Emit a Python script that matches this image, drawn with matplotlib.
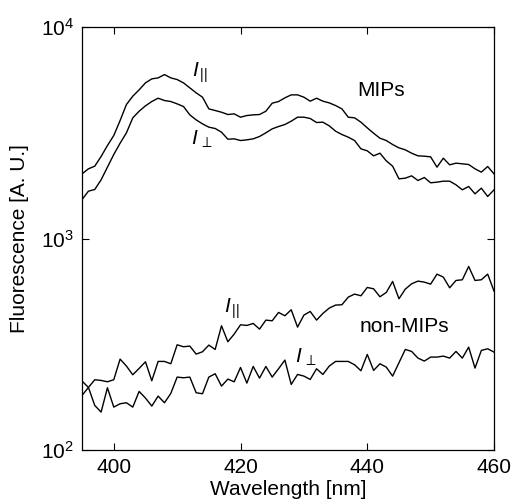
import matplotlib
matplotlib.use("Agg")
import matplotlib.pyplot as plt
from matplotlib.ticker import FixedLocator, FixedFormatter, NullLocator
import numpy as np

plt.rcParams['font.family'] = ['Liberation Sans', 'DejaVu Sans']
plt.rcParams['mathtext.fontset'] = 'custom'
plt.rcParams['mathtext.rm'] = 'Liberation Sans'
plt.rcParams['mathtext.it'] = 'Liberation Sans:italic'

wavelength = list(range(395, 461))

mip_par = [2025, 2139, 2202, 2446, 2757, 3074, 3620, 4309, 4718, 5054,
           5454, 5697, 5759, 5972, 5759, 5656, 5454, 5166, 4893, 4667,
           4110, 4036, 3963, 3864, 3892, 3754, 3822, 3850, 3864, 4006,
           4372, 4452, 4633, 4787, 4787, 4667, 4468, 4616, 4468, 4387,
           4261, 4110, 3754, 3727, 3555, 3342, 3152, 2986, 2911, 2787,
           2688, 2630, 2536, 2464, 2455, 2437, 2178, 2402, 2234, 2275,
           2259, 2242, 2139, 2063, 2194, 2025]

mip_perp = [1531, 1677, 1708, 1897, 2178, 2500, 2828, 3166, 3727, 4006,
            4247, 4452, 4616, 4501, 4452, 4340, 4216, 3850, 3646, 3491,
            3367, 3319, 3188, 2954, 2965, 2911, 2933, 2965, 3042, 3166,
            3306, 3391, 3466, 3594, 3754, 3754, 3700, 3542, 3555, 3416,
            3223, 3108, 3020, 2911, 2659, 2602, 2464, 2536, 2333, 2202,
            1918, 1932, 1982, 1884, 1946, 1837, 1850, 1870, 1870, 1797,
            1702, 1765, 1629, 1733, 1583, 1702]

non_par = [181.4, 197.8, 215.1, 213.5, 210.4, 215.1, 269.3, 249.6, 227.1, 243.3,
           261.6, 212.7, 262.6, 262.6, 256.0, 314.8, 308.1, 310.3, 284.4, 291.7,
           313.7, 299.2, 387.2, 325.3, 353.7, 391.4, 388.6, 397.1, 373.4, 411.8,
           408.8, 447.7, 431.7, 460.9, 381.6, 434.8, 452.5, 411.8, 442.9, 469.4,
           485.0, 486.8, 529.0, 546.6, 536.8, 587.6, 579.2, 530.9, 556.6, 627.4,
           519.5, 577.0, 611.5, 629.7, 622.8, 609.4, 679.5, 657.6, 585.5, 634.2,
           638.9, 738.6, 634.2, 638.9, 679.5, 564.8]

non_perp = [212.0, 197.8, 162.6, 151.2, 197.1, 159.7, 165.6, 167.4, 159.7, 189.4,
            176.2, 161.5, 180.0, 167.4, 185.3, 221.4, 219.8, 221.4, 186.7, 184.7,
            221.4, 229.6, 200.7, 216.6, 210.4, 245.9, 207.4, 248.6, 218.9, 248.6,
            221.4, 242.4, 266.4, 204.4, 227.9, 223.8, 215.8, 242.4, 227.9, 249.6,
            262.6, 262.6, 262.6, 253.2, 237.2, 283.4, 238.1, 256.0, 246.8, 223.8,
            258.8, 299.2, 292.8, 272.3, 263.6, 275.3, 275.3, 278.3, 272.3, 292.8,
            272.3, 306.9, 244.2, 296.0, 301.4, 290.6]

x_ticks = [400, 420, 440, 460]
y_ticks = [100, 1000, 10000]
y_tick_labels = [r'$10^{2}$', r'$10^{3}$', r'$10^{4}$']

fig = plt.figure(figsize=(5.13, 5.04), dpi=100)
ax = fig.add_axes([0.16, 0.107, 0.803, 0.839])

for series in (mip_par, mip_perp, non_par, non_perp):
    ax.plot(wavelength, series, color='black', lw=1.0)

ax.set_yscale('log')
ax.set_xlim(395, 460)
ax.set_ylim(100, 10000)
ax.xaxis.set_major_locator(FixedLocator(x_ticks))
ax.yaxis.set_major_locator(FixedLocator(y_ticks))
ax.yaxis.set_major_formatter(FixedFormatter(y_tick_labels))
ax.yaxis.set_minor_locator(NullLocator())
ax.xaxis.set_minor_locator(NullLocator())
ax.tick_params(direction='in', top=True, right=True, length=5, width=0.8,
               labelsize=15, pad=6)
for s in ax.spines.values():
    s.set_linewidth(0.9)

ax.set_xlabel('Wavelength [nm]', fontsize=15, labelpad=2)
ax.set_ylabel('Fluorescence [A. U.]', fontsize=15, labelpad=8)

fs = 15
ax.text(413.6, 6110, r'$I_{\,||}$', fontsize=fs, ha='center', va='center')
ax.text(413.9, 2945, r'$I_{\,\perp}$', fontsize=fs, ha='center', va='center')
ax.text(442.2, 5010, 'MIPs', fontsize=fs, ha='center', va='center')
ax.text(418.7, 468, r'$I_{\,||}$', fontsize=fs, ha='center', va='center')
ax.text(430.3, 274, r'$I_{\,\perp}$', fontsize=fs, ha='center', va='center')
ax.text(445.9, 386, 'non-MIPs', fontsize=fs, ha='center', va='center')

fig.savefig('out.png', dpi=100)
